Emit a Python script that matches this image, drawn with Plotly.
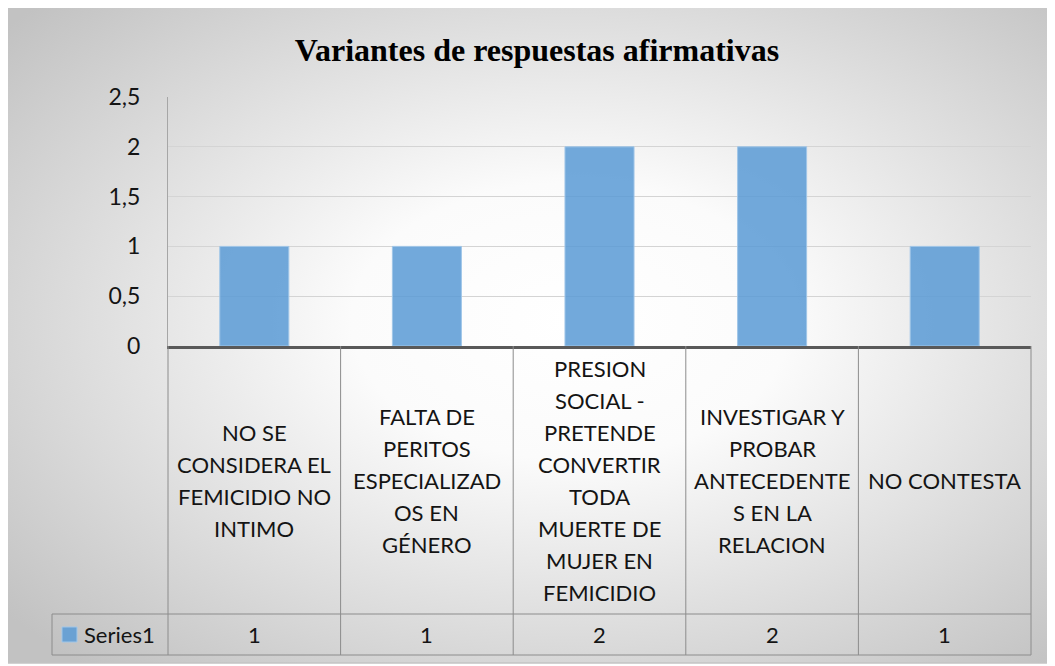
import base64
import plotly.graph_objects as go

# ---- data ----
categories = [
    "NO SE CONSIDERA EL FEMICIDIO NO INTIMO",
    "FALTA DE PERITOS ESPECIALIZADOS EN GÉNERO",
    "PRESION SOCIAL - PRETENDE CONVERTIR TODA MUERTE DE MUJER EN FEMICIDIO",
    "INVESTIGAR Y PROBAR ANTECEDENTES EN LA RELACION",
    "NO CONTESTA",
]
category_lines = [
    ["NO SE", "CONSIDERA EL", "FEMICIDIO NO", "INTIMO"],
    ["FALTA DE", "PERITOS", "ESPECIALIZAD", "OS EN", "GÉNERO"],
    ["PRESION", "SOCIAL -", "PRETENDE", "CONVERTIR", "TODA", "MUERTE DE", "MUJER EN", "FEMICIDIO"],
    ["INVESTIGAR Y", "PROBAR", "ANTECEDENTE", "S EN LA", "RELACION"],
    ["NO CONTESTA"],
]
series_name = "Series1"
values = [1, 1, 2, 2, 1]
title_text = "Variantes de respuestas afirmativas"
y_ticks = [0, 0.5, 1, 1.5, 2, 2.5]

# ---- layout geometry (page pixels; the page body adds an 8px offset) ----
OFF = 8
W, H = 1055 - OFF, 666 - OFF
L, R, T, B = 168 - OFF, 1031 - OFF, 97 - OFF, 346 - OFF
ROW_SPLIT, TABLE_BOTTOM = 614 - OFF, 655 - OFF
HEADER_LEFT = 52 - OFF
BOX = (6 - OFF, 5 - OFF, 1052 - OFF, 663 - OFF)

def px(x):
    return (x - L) / (R - L)

def py(y):
    return (B - y) / (B - T)

FONT = "Lato, Calibri, Carlito, sans-serif"
LINE_COL = "#8c8c8c"
TXT = "#141414"
n = len(categories)
xs = list(range(n))

fig = go.Figure()
fig.add_trace(go.Bar(
    x=xs, y=values, width=0.4, name=series_name,
    marker=dict(color="rgba(91,155,213,0.86)", line=dict(color="rgba(160,198,232,1)", width=1)),
    showlegend=False, hoverinfo="skip",
))

# background radial gradient
svg = ("<svg xmlns='http://www.w3.org/2000/svg' width='1046' height='658' preserveAspectRatio='none'>"
       "<defs><radialGradient id='g' cx='54%' cy='48%' r='70%'>"
       "<stop offset='0' stop-color='#ffffff'/><stop offset='0.3' stop-color='#fbfbfb'/>"
       "<stop offset='1' stop-color='#c2c2c2'/></radialGradient></defs>"
       "<rect width='100%' height='100%' fill='url(#g)'/></svg>")
src = "data:image/svg+xml;base64," + base64.b64encode(svg.encode()).decode()
images = [dict(source=src, xref="paper", yref="paper", x=px(BOX[0]), y=py(BOX[1]),
               sizex=px(BOX[2]) - px(BOX[0]), sizey=py(BOX[1]) - py(BOX[3]),
               xanchor="left", yanchor="top", sizing="stretch", layer="below")]

shapes = []
# chart border
shapes.append(dict(type="rect", xref="paper", yref="paper", x0=px(BOX[0]), x1=px(BOX[2]),
                   y0=py(BOX[3]), y1=py(BOX[1]), line=dict(color="#c4c4c4", width=1.5), layer="below"))
# table lines
yb, ys = py(TABLE_BOTTOM), py(ROW_SPLIT)
for i in range(n - 1):
    shapes.append(dict(type="line", xref="x", yref="paper", x0=i + 0.5, x1=i + 0.5, y0=0, y1=yb,
                       line=dict(color=LINE_COL, width=1)))
for xe in (0, 1):
    shapes.append(dict(type="line", xref="paper", yref="paper", x0=xe, x1=xe, y0=0, y1=yb,
                       line=dict(color=LINE_COL, width=1)))
for yy in (ys, yb):
    shapes.append(dict(type="line", xref="paper", yref="paper", x0=px(HEADER_LEFT), x1=1, y0=yy, y1=yy,
                       line=dict(color=LINE_COL, width=1)))
shapes.append(dict(type="line", xref="paper", yref="paper", x0=px(HEADER_LEFT), x1=px(HEADER_LEFT),
                   y0=ys, y1=yb, line=dict(color=LINE_COL, width=1)))
# legend key
shapes.append(dict(type="rect", xref="paper", yref="paper", x0=px(62 - OFF), x1=px(77 - OFF),
                   y0=py(642 - OFF), y1=py(627 - OFF),
                   fillcolor="rgba(91,155,213,0.86)", line=dict(color="rgba(160,198,232,1)", width=1)))

annotations = []
cat_center = py((B + ROW_SPLIT) / 2)
LH = 32
for i, lines in enumerate(category_lines):
    k = len(lines)
    for j, line in enumerate(lines):
        annotations.append(dict(x=xs[i], y=cat_center, xref="x", yref="paper", text=line,
                                showarrow=False, xanchor="center", yanchor="middle",
                                yshift=((k - 1) / 2 - j) * LH,
                                font=dict(family=FONT, size=22, color=TXT)))
val_center = py((ROW_SPLIT + TABLE_BOTTOM) / 2)
for i, v in enumerate(values):
    annotations.append(dict(x=xs[i], y=val_center, xref="x", yref="paper", text=str(v),
                            showarrow=False, xanchor="center", yanchor="middle",
                            font=dict(family=FONT, size=22, color=TXT)))
annotations.append(dict(x=px(82 - OFF), y=val_center, xref="paper", yref="paper", text=series_name,
                        showarrow=False, xanchor="left", yanchor="middle",
                        font=dict(family=FONT, size=22, color=TXT)))

fig.update_layout(
    width=W, height=H,
    margin=dict(l=L, r=W - R, t=T, b=H - B, pad=0),
    paper_bgcolor="white", plot_bgcolor="rgba(0,0,0,0)",
    separators=",.",
    title=dict(text="<b>" + title_text + "</b>", x=(537 - OFF) / W, xanchor="center", xref="container",
               y=1 - (50 - OFF) / H, yanchor="middle", yref="container",
               font=dict(family="Liberation Serif, Times New Roman, serif", size=32, color="#000")),
    xaxis=dict(range=[-0.5, n - 0.5], showticklabels=False, showgrid=False, zeroline=False,
               showline=True, linecolor="#595959", linewidth=3, ticks="", fixedrange=True),
    yaxis=dict(range=[0, 2.5], tickvals=y_ticks, showgrid=True, gridcolor="#d4d4d4", gridwidth=1,
               zeroline=False, showline=True, linecolor="#a6a6a6", linewidth=1, ticks="",
               ticklabelstandoff=22, tickfont=dict(family=FONT, size=23, color=TXT)),
    images=images, shapes=shapes, annotations=annotations,
    bargap=0.6,
)

fig.write_html("out.html")
